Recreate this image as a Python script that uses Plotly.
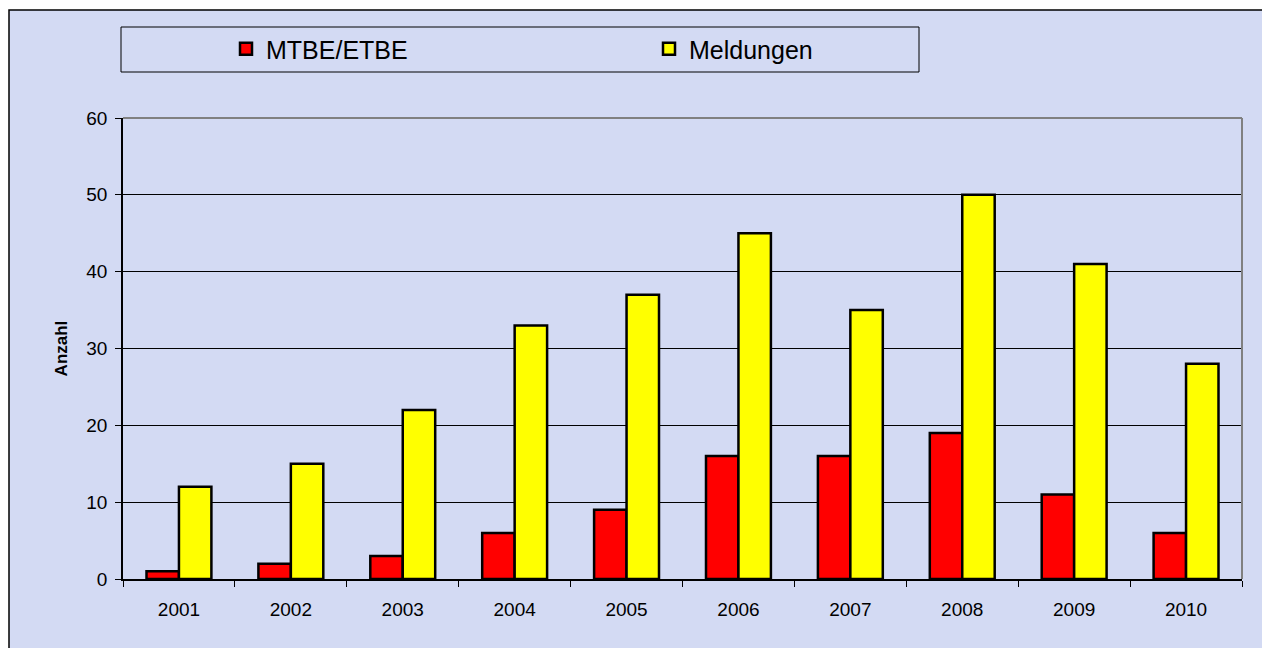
import plotly.graph_objects as go

years = ["2001", "2002", "2003", "2004", "2005", "2006", "2007", "2008", "2009", "2010"]
mtbe = [1, 2, 3, 6, 9, 16, 16, 19, 11, 6]
meldungen = [12, 15, 22, 33, 37, 45, 35, 50, 41, 28]
y_ticks = [0, 10, 20, 30, 40, 50, 60]

# page has an 8px body margin; work in page coordinates and convert
OFF = 8
W, H = 1262, 640
L, R, T, B = 123 - OFF, 28, 118 - OFF, 69
pw, ph = W - L - R, H - T - B

def px(x):
    return (x - OFF - L) / pw

def py(y):
    return (H - B - (y - OFF)) / ph

bg = "#d3daf3"
font = "Arial, Liberation Sans, sans-serif"

fig = go.Figure()
fig.add_trace(go.Bar(name="MTBE/ETBE", x=years, y=mtbe,
                     marker=dict(color="#ff0000", line=dict(color="black", width=2.5))))
fig.add_trace(go.Bar(name="Meldungen", x=years, y=meldungen,
                     marker=dict(color="#ffff00", line=dict(color="black", width=2.5))))

shapes = [
    # outer chart border
    dict(type="rect", xref="paper", yref="paper", x0=px(9), x1=px(1267), y0=py(670), y1=py(10),
         line=dict(color="black", width=1.5), fillcolor=bg, layer="below"),
    # legend box
    dict(type="rect", xref="paper", yref="paper", x0=px(121), x1=px(919), y0=py(72), y1=py(27),
         line=dict(color="black", width=1), fillcolor="rgba(0,0,0,0)", layer="below"),
    # plot area top and right border (gray)
    dict(type="line", xref="paper", yref="paper", x0=0, x1=1, y0=1, y1=1,
         line=dict(color="#808080", width=2)),
    dict(type="line", xref="paper", yref="paper", x0=1, x1=1, y0=0, y1=1,
         line=dict(color="#808080", width=2)),
]

fig.update_layout(
    width=W, height=H,
    margin=dict(l=L, r=R, t=T, b=B, autoexpand=False),
    paper_bgcolor="white",
    plot_bgcolor=bg,
    barmode="group",
    bargap=0.42,
    bargroupgap=0,
    font=dict(family=font, color="black", size=16),
    shapes=shapes,
    showlegend=True,
    legend=dict(orientation="h", x=px(226), y=py(49), xanchor="left", yanchor="middle",
                bgcolor="rgba(0,0,0,0)", borderwidth=0,
                font=dict(family=font, size=25, color="black"),
                entrywidth=378, entrywidthmode="pixels", itemclick=False),
    xaxis=dict(type="category", showline=True, linecolor="black", linewidth=1.5,
               ticks="outside", ticklen=6, tickcolor="black", tickson="boundaries",
               tickfont=dict(size=19), ticklabelstandoff=12, showgrid=False, fixedrange=True),
    yaxis=dict(range=[0, 60], tickvals=y_ticks, showline=True, linecolor="black", linewidth=1.5,
               ticks="outside", ticklen=6, tickcolor="black", ticklabelstandoff=4,
               showgrid=True, gridcolor="black", gridwidth=1, zeroline=False,
               tickfont=dict(size=19),
               title=dict(text="<b>Anzahl</b>", font=dict(size=17), standoff=14),
               fixedrange=True),
)

fig.write_html("out.html")
